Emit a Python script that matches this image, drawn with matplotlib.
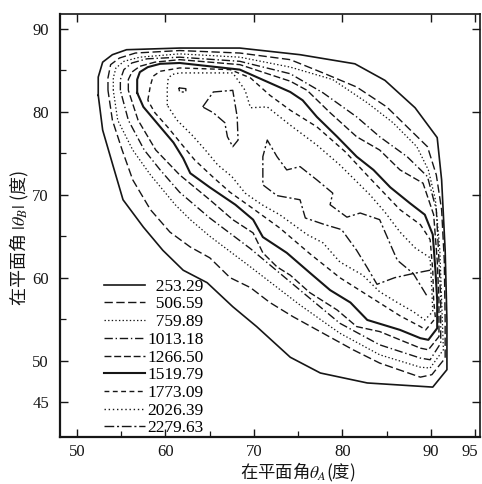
import matplotlib
matplotlib.use("Agg")
import matplotlib.pyplot as plt
import matplotlib.transforms as mtransforms
from matplotlib.ticker import FixedLocator, NullFormatter

plt.rcParams['lines.scale_dashes'] = False
plt.rcParams['mathtext.fontset'] = 'stix'

# contour levels (legend labels)
levels = ["253.29", "506.59", "759.89", "1013.18", "1266.50",
          "1519.79", "1773.09", "2026.39", "2279.63"]

# traced contour lines, in data units (theta_A, |theta_B|)
c1_x = [52.4, 52.4, 52.9, 54.0, 55.6, 61.6, 68.4, 75.2, 81.4, 84.8, 88.2, 90.7, 91.2, 91.6, 91.8,
        91.8, 90.2, 82.8, 77.5, 74.1, 70.3, 67.6, 64.7, 62.0, 59.7, 57.5, 55.2, 54.1, 52.9, 52.4]
c1_y = [82.0, 84.2, 86.0, 86.9, 87.5, 87.7, 87.7, 86.9, 85.8, 83.8, 80.5, 76.9, 71.8, 63.3, 54.9,
        48.9, 46.8, 47.3, 48.5, 50.4, 54.1, 56.5, 59.4, 60.9, 63.3, 66.1, 69.4, 73.4, 77.8, 82.0]

c2_x = [53.5, 53.5, 53.8, 54.8, 56.6, 61.6, 68.4, 74.1, 77.8, 81.6, 85.0, 87.3, 89.6, 90.6, 91.2,
        91.5, 91.6, 91.6, 90.1, 88.8, 84.2, 81.2, 77.8, 74.4, 71.8, 69.6, 67.3, 65.0, 62.8, 60.5,
        58.3, 56.3, 55.1, 54.0, 53.5]
c2_y = [82.6, 84.1, 85.7, 86.5, 87.1, 87.4, 87.1, 86.3, 84.7, 83.0, 80.6, 78.2, 75.8, 72.4, 68.2,
        62.1, 54.9, 50.3, 48.3, 48.0, 49.7, 51.3, 53.3, 55.3, 57.0, 58.8, 60.0, 62.4, 63.7, 65.5,
        68.2, 71.8, 75.4, 79.0, 82.6]

c3_x = [54.1, 54.1, 54.4, 55.3, 57.1, 61.6, 68.4, 74.1, 78.9, 82.8, 85.7, 88.4, 89.7, 90.5, 91.0,
        91.2, 91.4, 89.9, 88.8, 84.2, 79.7, 75.2, 69.6, 65.0, 62.8, 61.1, 58.3, 56.3, 54.6, 54.1]
c3_y = [82.6, 84.1, 85.3, 86.1, 86.6, 87.0, 86.6, 85.4, 83.9, 81.1, 78.7, 75.8, 73.0, 69.4, 63.3,
        57.3, 51.3, 49.1, 49.2, 50.7, 53.3, 56.7, 61.3, 65.0, 67.0, 68.8, 72.4, 75.4, 79.0, 82.6]

c4_x = [54.9, 54.9, 55.3, 56.2, 57.9, 61.6, 68.4, 74.1, 77.8, 81.6, 84.2, 87.3, 89.6, 90.6, 90.9,
        91.1, 91.1, 89.9, 88.8, 84.2, 79.7, 75.2, 69.6, 65.0, 61.6, 59.4, 57.6, 55.8, 54.9]
c4_y = [82.6, 83.9, 85.1, 85.9, 86.4, 86.6, 86.1, 84.6, 82.3, 79.4, 77.0, 74.6, 72.2, 68.2, 62.1,
        57.3, 52.1, 50.1, 50.3, 51.9, 54.5, 58.5, 63.5, 67.2, 70.3, 73.0, 75.4, 79.0, 82.6]

c5_x = [55.8, 55.8, 56.2, 57.1, 58.8, 61.6, 68.4, 74.1, 76.0, 78.6, 81.6, 84.2, 86.5, 89.1, 90.3,
        90.7, 90.9, 90.9, 89.7, 88.8, 84.2, 81.6, 79.4, 76.3, 74.1, 72.6, 71.0, 69.9, 67.6, 65.0,
        61.6, 58.9, 56.9, 55.8]
c5_y = [82.6, 83.9, 84.8, 85.5, 86.0, 86.3, 85.7, 83.7, 82.6, 79.9, 77.0, 75.4, 73.0, 71.4, 67.6,
        62.1, 57.3, 52.9, 51.3, 51.5, 53.5, 54.1, 56.1, 58.2, 60.3, 61.3, 63.0, 65.4, 67.0, 69.4,
        72.4, 75.4, 79.0, 82.6]

c6_x = [56.8, 56.8, 57.1, 58.0, 59.4, 61.6, 68.4, 74.1, 75.5, 77.1, 79.4, 81.6, 83.5, 85.4, 87.6,
        89.3, 90.2, 90.5, 90.7, 90.7, 89.7, 88.8, 86.5, 82.8, 80.9, 78.6, 76.3, 73.7, 71.0, 69.9,
        67.9, 65.0, 62.8, 62.0, 60.9, 59.0, 57.5, 56.8]
c6_y = [82.3, 83.9, 84.8, 85.4, 85.8, 85.9, 85.1, 82.4, 81.4, 79.4, 77.0, 74.6, 73.0, 70.9, 69.0,
        67.6, 65.2, 60.9, 57.3, 53.9, 52.5, 52.7, 53.7, 54.9, 57.0, 58.5, 60.6, 63.0, 64.9, 67.0,
        68.8, 70.9, 72.6, 74.4, 76.3, 78.7, 80.6, 82.3]

c7_x = [58.0, 58.3, 58.6, 59.4, 61.6, 67.3, 69.6, 71.8, 74.1, 77.1, 80.3, 83.1, 86.5, 88.8, 89.9,
        90.2, 90.3, 90.5, 89.4, 88.8, 86.5, 83.1, 79.7, 76.3, 72.9, 69.8, 67.3, 65.3, 63.3, 61.9,
        60.3, 58.8, 58.0]
c7_y = [81.4, 83.2, 84.3, 84.9, 85.3, 85.1, 84.1, 82.0, 80.2, 78.2, 75.2, 72.0, 68.2, 66.4, 64.6,
        60.9, 57.3, 55.1, 53.7, 54.1, 55.4, 57.7, 60.0, 62.9, 66.0, 68.4, 70.3, 72.2, 74.2, 76.0,
        78.1, 79.9, 81.4]

c8_x = [60.2, 60.2, 60.3, 60.7, 61.6, 67.6, 69.0, 69.6, 71.5, 74.1, 77.1, 79.7, 83.1, 84.8, 86.5,
        88.2, 89.9, 90.1, 90.2, 89.3, 88.0, 86.2, 84.2, 82.3, 79.7, 77.8, 76.0, 72.9, 70.9, 69.0,
        67.5, 65.9, 64.5, 63.0, 61.3, 60.2]
c8_y = [80.8, 82.9, 84.0, 84.5, 84.7, 84.7, 82.6, 80.5, 80.6, 78.4, 76.0, 73.6, 70.0, 67.9, 65.5,
        63.6, 62.4, 58.5, 55.9, 54.9, 55.9, 57.0, 58.3, 60.3, 61.9, 64.2, 65.2, 67.6, 68.8, 70.2,
        72.2, 73.6, 75.4, 77.2, 79.0, 80.8]

# innermost level: three pieces
c9a_x = [89.9, 88.0, 85.9, 83.9, 82.8, 81.6, 79.9, 78.0, 75.8, 75.2, 72.6, 71.0, 71.0, 71.5,
         72.6, 73.7, 75.2, 77.1, 78.9, 78.6, 80.5, 82.0, 84.2, 85.7, 86.2, 88.0, 89.6]
c9a_y = [60.9, 60.5, 60.0, 59.2, 61.2, 63.3, 65.8, 66.4, 67.2, 69.4, 69.9, 71.2, 74.6, 76.6,
         74.6, 73.0, 73.4, 71.8, 70.2, 68.8, 67.3, 67.8, 67.0, 63.3, 62.1, 60.5, 57.7]
c9b_x = [64.2, 65.4, 67.6, 68.1, 68.2, 67.6, 67.0, 66.7, 65.4, 64.2]
c9b_y = [80.6, 82.4, 82.6, 79.4, 76.6, 75.8, 77.0, 78.7, 79.9, 80.6]
c9c_x = [61.5, 62.3, 62.3, 61.6, 61.5]
c9c_y = [82.9, 82.8, 82.4, 82.4, 82.9]

x_major = [50, 60, 70, 80, 90, 95]
x_minor = [55, 65, 75, 85]
y_major = [45, 50, 60, 70, 80, 90]
y_minor = [55, 65, 75, 85]

x_label = "在平面角$\\theta_A$(度)"
y_label = "在平面角$\\ |\\theta_B|\\ $(度)"

# style per level: (linestyle, linewidth)
styles = [
    ("-", 1.2),
    ((0, (6, 2.5)), 1.0),
    ((0, (1, 1.6)), 0.9),
    ((0, (6, 2, 1, 2)), 1.0),
    ((0, (5, 2)), 1.0),
    ("-", 1.5),
    ((0, (3.5, 2.5)), 1.0),
    ((0, (1, 2)), 1.0),
    ((0, (7, 2, 1.5, 2)), 1.0),
]

ink = "#161616"
serif = ["Liberation Serif", "DejaVu Serif"]

fig = plt.figure(figsize=(4.82, 4.84), dpi=100)
ax = fig.add_axes([0.1245, 0.0971, 0.8714, 0.874])

series = [
    [(c1_x, c1_y)], [(c2_x, c2_y)], [(c3_x, c3_y)], [(c4_x, c4_y)], [(c5_x, c5_y)],
    [(c6_x, c6_y)], [(c7_x, c7_y)], [(c8_x, c8_y)],
    [(c9a_x, c9a_y), (c9b_x, c9b_y), (c9c_x, c9c_y)],
]

handles = []
for lev, pieces, (ls, lw) in zip(levels, series, styles):
    first = None
    for px, py in pieces:
        ln, = ax.plot(px, py, color=ink, linestyle=ls, linewidth=lw)
        if first is None:
            first = ln
    handles.append(first)

labels = []
for lev in levels:
    pad = 7 - len(lev)
    labels.append("  " * pad + lev)

leg = ax.legend(handles, labels, loc="upper left", bbox_to_anchor=(0.085, 0.395),
                frameon=False, handlelength=2.35, handletextpad=0.12,
                labelspacing=0.09, borderpad=0.0,
                prop={"family": serif, "size": 12.5})

ax.set_xlim(48.08, 95.54)
ax.set_ylim(40.78, 91.81)

ax.xaxis.set_major_locator(FixedLocator(x_major))
ax.xaxis.set_minor_locator(FixedLocator(x_minor))
ax.yaxis.set_major_locator(FixedLocator(y_major))
ax.yaxis.set_minor_locator(FixedLocator(y_minor))
ax.xaxis.set_minor_formatter(NullFormatter())
ax.yaxis.set_minor_formatter(NullFormatter())

ax.tick_params(which="major", direction="in", length=6, width=1.0, colors=ink,
               top=True, right=True, labelsize=12)
ax.tick_params(which="minor", direction="in", length=4, width=0.9, colors=ink,
               top=False, right=False)
ax.tick_params(axis="x", which="major", pad=5)
ax.tick_params(axis="y", which="major", pad=8)
for lbl in ax.get_xticklabels() + ax.get_yticklabels():
    lbl.set_family(serif)

# keep the last x tick label ("95") inside the figure edge
last = ax.get_xticklabels()[-1]
last.set_transform(last.get_transform() +
                   mtransforms.ScaledTranslation(-5 / 100, 0, fig.dpi_scale_trans))

for side, sp in ax.spines.items():
    sp.set_color(ink)
    sp.set_linewidth(1.6 if side in ("left", "bottom") else 1.2)

ax.set_xlabel(x_label, fontsize=12.5, family="Noto Sans CJK SC", color=ink)
ax.set_ylabel(y_label, fontsize=13, family="Noto Sans CJK SC", color=ink)
ax.xaxis.set_label_coords(0.567, -0.056)
ax.yaxis.set_label_coords(-0.068, 0.47)

fig.savefig("out.png", dpi=100, facecolor="white")
